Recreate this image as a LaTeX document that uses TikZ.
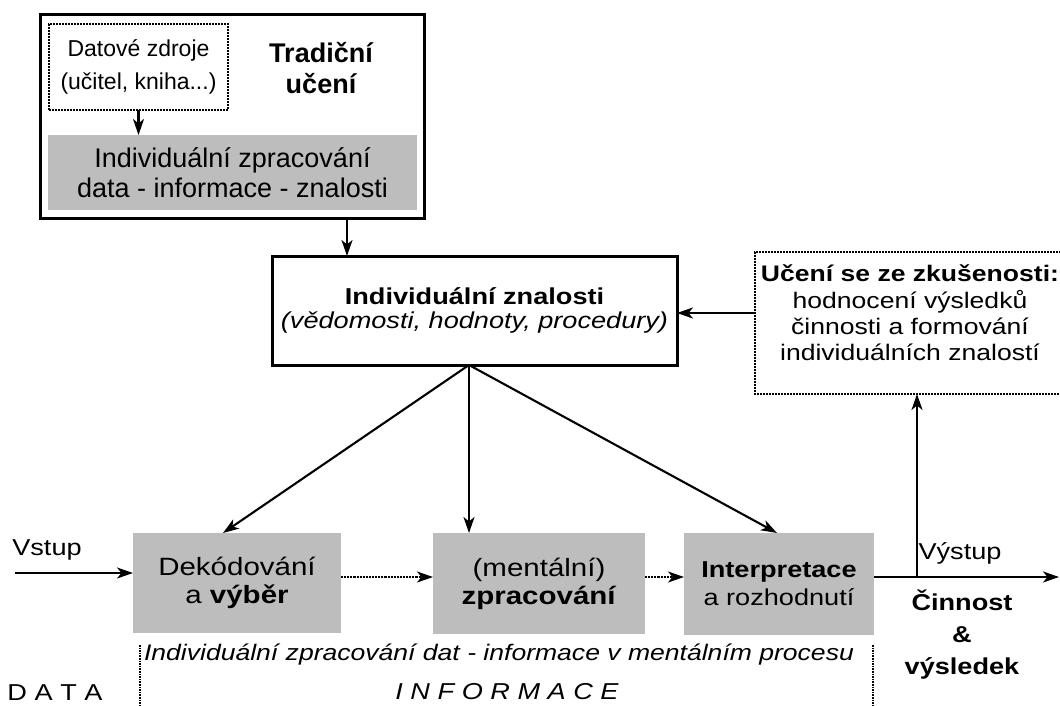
\documentclass[tikz,border=0pt]{standalone}
\usepackage{fontspec}
\setmainfont{Liberation Sans}
\newfontfamily\widefont[FakeStretch=1.18]{Liberation Sans}
\usetikzlibrary{arrows.meta}
\definecolor{boxgray}{gray}{0.74}
\begin{document}
\begin{tikzpicture}[x=1pt,y=-1pt,
  every node/.style={inner sep=0pt, outer sep=0pt, align=center},
  thickbox/.style={draw, line width=3pt},
  dotbox/.style={draw, densely dotted, line width=2pt},
  dotedge/.style={densely dotted, line width=2pt},
  graybox/.style={fill=boxgray},
  conn/.style={line width=2.1pt, -{Stealth[length=16pt,width=11pt,inset=4.5pt]}},
  dotconn/.style={conn, densely dotted},
  sepline/.style={densely dotted, line width=1.6pt},
]
\useasboundingbox (0,0) rectangle (1060,706);

% ---------- top block: traditional learning
\node[thickbox, minimum width=384pt, minimum height=203pt] (trad) at (232,116.5) {};
\node[dotbox, minimum width=179pt, minimum height=86pt, font=\fontsize{23}{33}\selectfont] (src) at (138.5,67) {Datové zdroje\\(učitel, kniha...)};
\node[font=\bfseries\fontsize{27}{31}\selectfont] (tradlbl) at (321,68) {Tradiční\\učení};
\node[graybox, minimum width=369pt, minimum height=75pt, font=\fontsize{27}{30}\selectfont] (gproc) at (232.5,172.5) {Individuální zpracování\\data - informace - znalosti};

% ---------- individual knowledge
\node[thickbox, minimum width=405pt, minimum height=109pt, font=\widefont\fontsize{23}{23.5}\selectfont] (ind) at (474.5,310.5) {\textbf{Individuální znalosti}\\\textit{(vědomosti, hodnoty, procedury)}};

% ---------- learning from experience (right side cut off by the page edge)
\node[minimum width=315pt, minimum height=142pt] (learn) at (912.5,323) {};
\draw[dotedge] (learn.north east) -- (learn.north west) -- (learn.south west) -- (learn.south east);
\node[font=\widefont\fontsize{22.5}{26.3}\selectfont] (learnlbl) at (910,313) {\textbf{Učení se ze zkušenosti:}\\hodnocení výsledků\\činnosti a formování\\individuálních znalostí};

% ---------- process boxes
\node[graybox, minimum width=208pt, minimum height=100pt, font=\widefont\fontsize{25}{28}\selectfont] (dek) at (237,583) {Dekódování\\a \textbf{výběr}};
\node[graybox, minimum width=212pt, minimum height=101pt, font=\widefont\fontsize{25}{28}\selectfont] (ment) at (539,583.5) {(mentální)\\\textbf{zpracování}};
\node[graybox, minimum width=190pt, minimum height=102pt, font=\widefont\fontsize{23}{28}\selectfont] (interp) at (779,584) {\textbf{Interpretace}\\a rozhodnutí};

% ---------- labels
\node[font=\widefont\fontsize{23}{27}\selectfont] (vstup) at (47,550) {Vstup};
\node[font=\widefont\fontsize{23}{27}\selectfont] (vystup) at (960,553) {Výstup};
\node[font=\widefont\bfseries\fontsize{23}{32}\selectfont] (cinnost) at (962,635) {Činnost\\\&\\výsledek};
\node[font=\widefont\itshape\fontsize{22.5}{27}\selectfont] (proclbl) at (499,655) {Individuální zpracování dat - informace v mentálním procesu};
\node[font=\widefont\fontsize{23}{27}\selectfont] (data) at (55,693) {D A T A};
\node[font=\widefont\itshape\fontsize{23}{27}\selectfont] (info) at (507,692) {I N F O R M A C E};

% ---------- helper coordinates
\coordinate (k1) at (347,0);
\coordinate (k2) at (0,313);
\coordinate (fan) at (469,365);
\coordinate (k4) at (223,0);
\coordinate (k5) at (777,0);
\coordinate (in) at (15,573);
\coordinate (row) at (0,577);
\coordinate (out) at (1059,577);
\coordinate (up) at (917,577);
\coordinate (s1a) at (140,645);
\coordinate (s1b) at (140,706);
\coordinate (s2a) at (873,645);
\coordinate (s2b) at (873,706);

% ---------- connectors
\draw[conn] (src.south) -- (gproc.north -| src.south);
\draw[conn] (trad.south -| k1) -- (ind.north -| k1);
\draw[conn] (learn.west |- k2) -- (ind.east |- k2);
\draw[conn] (fan) -- (dek.north -| k4);
\draw[conn] (fan) -- (ment.north -| fan);
\draw[conn] (fan) -- (interp.north -| k5);
\draw[conn] (in) -- (dek.west |- in);
\draw[dotconn] (dek.east |- row) -- (ment.west |- row);
\draw[dotconn] (ment.east |- row) -- (interp.west |- row);
\draw[conn] (interp.east |- row) -- (out);
\draw[conn] (up) -- (learn.south -| up);

% ---------- separators
\draw[sepline] (s1a) -- (s1b);
\draw[sepline] (s2a) -- (s2b);
\end{tikzpicture}
\end{document}
